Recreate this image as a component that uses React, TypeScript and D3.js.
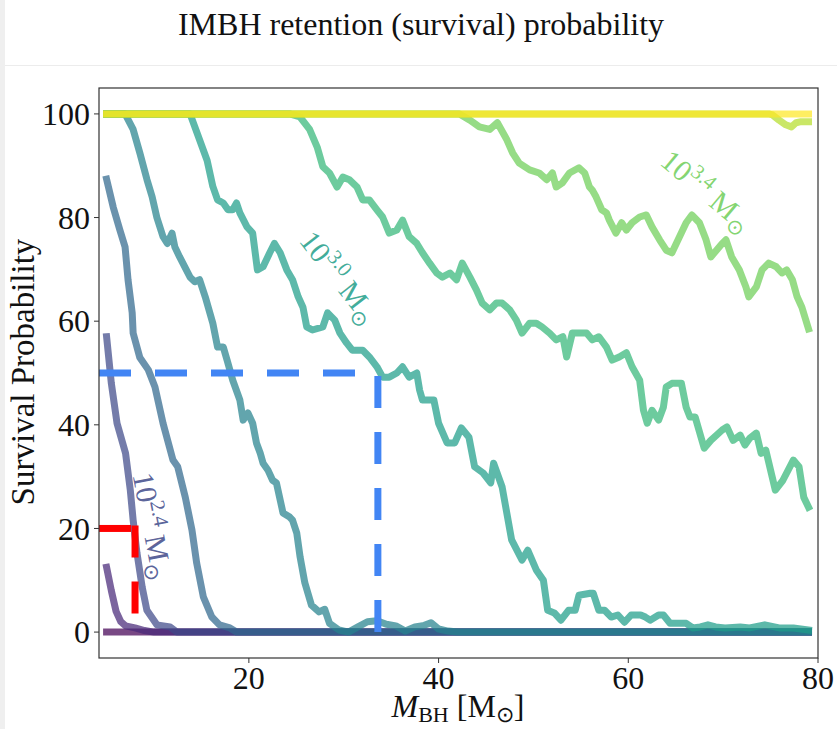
import React from 'react';
import * as d3 from 'd3';

const W = 837;
const H = 729;

const xTicks = [20, 40, 60, 80];
const yTicks = [0, 20, 40, 60, 80, 100];

// Survival probability curves, [M_BH, P] pairs, one per cluster mass (log10 M)
const curve20: [number, number][] = [[5, 0], [79, 0]];
const curve22: [number, number][] = [[5, 12.5], [5.5, 8], [6, 4], [6.5, 2], [7, 1.2], [8, 0.8], [9, 0.3], [10, 0], [79, 0]];
const curve24: [number, number][] = [[5, 57], [5.5, 48], [6.1, 40.3], [7, 34.5], [7.5, 27.4], [7.8, 21.6], [8.2, 15.3], [8.75, 8.7], [9.25, 4.2], [10.3, 1.4], [11.7, 1], [12.4, 0], [79, 0]];
const curve26: [number, number][] = [[5, 87.4], [5.7, 82], [6.4, 77.6], [6.95, 74.3], [7.26, 68], [7.7, 61.6], [7.8, 57.7], [8.5, 53], [9.4, 50.6], [10.1, 47.3], [10.95, 40.3], [12, 33.2], [12.5, 31.9], [13.3, 26], [14, 19.7], [14.5, 13.3], [15.2, 6.8], [16.1, 2.9], [16.9, 1.4], [18, 0.8], [18.7, 0], [79, 0]];
const curve28: [number, number][] = [[5, 100], [6.95, 100], [7.8, 97], [8.5, 92.5], [9.26, 87.3], [9.8, 84], [10.3, 80], [10.95, 76.3], [11.4, 75], [11.9, 77], [12.2, 74.3], [12.7, 72.4], [13.8, 68.5], [14.3, 67.6], [14.8, 68], [15.4, 64.7], [16.2, 59.6], [16.7, 55], [17.3, 55], [17.7, 52.5], [18.3, 48.6], [19.05, 44.8], [19.4, 40.9], [19.9, 42.3], [20.4, 40.3], [20.8, 36.5], [21.2, 34.5], [21.5, 32.6], [22, 31.3], [22.5, 29.3], [22.9, 28.8], [23.6, 23], [24.3, 22.2], [24.6, 21.6], [25.05, 19.1], [25.4, 14.5], [25.9, 9.5], [26.6, 5.2], [27.4, 3.9], [28, 4.4], [28.5, 1.7], [29.5, 0.4], [30.5, 0], [31.5, 1], [32.5, 2], [33.5, 2.2], [34.5, 1.5], [35.5, 1.2], [36.5, 0.2], [37.5, 1], [38.5, 1.3], [39.2, 1.8], [40, 0.6], [41, 0.2], [42, 0], [79, 0]];
const curve30: [number, number][] = [[5, 100], [13.8, 100], [14.8, 95], [15.6, 91], [16.2, 86], [16.7, 83.4], [17.3, 82.8], [17.8, 81.5], [18.3, 81.5], [18.7, 82.8], [19.05, 80.9], [19.8, 78.2], [20.4, 77], [20.9, 69.9], [21.5, 70.5], [22.2, 73.2], [22.7, 75], [23.3, 73.2], [24, 69.9], [24.6, 68], [25.2, 64.7], [25.7, 62.7], [26.1, 58.9], [26.7, 58.3], [27.8, 58.9], [28.3, 61.6], [29.05, 60.2], [29.6, 57.7], [30.3, 55.8], [30.9, 54.4], [32, 54.4], [32.7, 53.1], [33.5, 51.2], [34.1, 49.2], [34.8, 49.2], [35.6, 50], [36.2, 51.2], [36.9, 49.2], [37.7, 50], [38, 46.7], [38.3, 44.8], [39.5, 44.8], [40, 40.3], [40.9, 36.5], [41.7, 36.5], [42.4, 39.4], [43.2, 37.6], [43.8, 31.9], [44.7, 30.7], [45.5, 28.8], [45.8, 32.6], [46.7, 28], [47.7, 17.8], [48.8, 13.9], [49.4, 15.8], [50.3, 12], [51.05, 10], [51.5, 4.2], [52.2, 3.7], [52.9, 2.3], [53.7, 4.2], [54.4, 4.2], [54.8, 7.1], [56, 7.5], [56.3, 7.5], [56.9, 4.2], [57.5, 4.2], [58.2, 2.9], [58.9, 3.3], [59.6, 1.9], [60.3, 3.3], [61.3, 3.3], [61.8, 2.9], [62.3, 2.3], [63.2, 3.3], [63.7, 3.3], [64.4, 1.7], [66.1, 1.7], [66.8, 0.8], [67.6, 1], [68.4, 1.4], [69.2, 1], [70.2, 0.8], [71.8, 1], [72.8, 0.8], [74.4, 1.4], [75.9, 0.8], [77.4, 0.8], [79, 0.4]];
const curve32: [number, number][] = [[5, 100], [24.3, 100], [25.4, 99.4], [26.4, 97], [27.2, 93.6], [27.8, 89.8], [28.5, 88.6], [29.3, 85.9], [29.9, 87.8], [30.6, 87.3], [31.4, 85.9], [32, 83.4], [32.7, 83.4], [33.5, 81.5], [34.1, 80.1], [34.8, 77], [35.6, 77.6], [36.2, 79.5], [36.9, 76.3], [37.7, 75], [38.3, 73.2], [39.05, 71.2], [39.8, 69.3], [40.4, 68.5], [41.2, 69.3], [41.9, 68], [42.5, 71.2], [43.3, 68.5], [44, 66], [44.6, 63.5], [45.4, 62.2], [46.1, 63.5], [46.7, 63.5], [47.5, 62.2], [48.2, 60.2], [48.8, 57.7], [49.6, 59.6], [50.3, 59.6], [50.9, 58.9], [51.7, 57.7], [52.4, 56.4], [53.1, 57], [53.5, 53.1], [54.1, 57.7], [54.8, 57.7], [55.6, 57.7], [56.2, 56.4], [56.9, 57], [57.7, 55], [58.3, 52.5], [59.05, 53.1], [59.8, 53.9], [60.4, 51.2], [61.2, 48.6], [61.6, 42.8], [62, 40.3], [62.5, 42.8], [63.2, 40.9], [63.7, 43.4], [64, 47.3], [64.6, 48], [65.6, 48], [66.1, 43.4], [66.5, 41.5], [67.05, 41.5], [68, 35.5], [68.7, 37], [69.9, 39], [70.4, 39.6], [71.05, 37], [71.8, 38], [72.3, 36.1], [72.8, 37.4], [73.5, 38.4], [74, 34.5], [74.5, 35.1], [75.5, 27.4], [76.3, 29.3], [77.4, 33.2], [78, 31.9], [78.5, 26], [79, 24.1]];
const curve34: [number, number][] = [[5, 100], [42.2, 100], [43.3, 98.8], [44.3, 97.5], [45.4, 97], [46.2, 98.3], [47.2, 95], [47.8, 92.5], [48.5, 90.5], [49.6, 89.2], [50.6, 88.6], [51.4, 87.3], [52, 88.6], [52.4, 85.9], [53.05, 86.7], [53.8, 88.6], [54.8, 89.6], [55.4, 88.6], [55.9, 85.9], [56.2, 85.3], [56.6, 84], [57.2, 81.5], [57.7, 80.9], [58, 79.5], [58.7, 77], [59.3, 79], [59.8, 77.6], [60.4, 79], [61.2, 80.1], [61.9, 80.5], [62.5, 78.2], [63.3, 75.7], [64, 73.7], [64.6, 73.2], [65.4, 76.3], [66.1, 79], [66.7, 80.5], [67.5, 79], [68.2, 75.7], [68.7, 72.4], [69.3, 73.7], [69.9, 75], [70.3, 75.7], [70.9, 72.4], [71.7, 69.9], [72.4, 66.6], [72.7, 64.7], [73.5, 66.6], [74.1, 69.9], [74.8, 71.2], [75.6, 70.5], [76.2, 69.3], [76.7, 69.9], [77.3, 68], [77.8, 64.7], [78.3, 62.7], [79, 58.5]];
const curve36: [number, number][] = [[5, 100], [74.8, 100], [75.2, 99.8], [75.9, 98.8], [76.6, 97.9], [77.2, 97.5], [77.7, 98.3], [78.2, 98.5], [79, 98.5]];
const curve38: [number, number][] = [[5, 100], [79, 100]];

const seriesData = [curve20, curve22, curve24, curve26, curve28, curve30, curve32, curve34, curve36, curve38];
const seriesColorT = [0, 1 / 9, 2 / 9, 3 / 9, 4 / 9, 5 / 9, 6 / 9, 7 / 9, 8 / 9, 1];

// inline labels: exponent, position (M_BH, P), rotation, colour series
const labelExp = ['2.4', '3.0', '3.4'];
const labelX = [9.9, 29.6, 68.3];
const labelY = [20.5, 68.5, 85.2];
const labelRot = [79, 52, 40];
const labelSeries = [2, 5, 7];

// reference dashed guides
const blueGuide = { x: 33.6, y: 50 };
const redGuide = { x: 8.0, y: 20 };

export default function App() {
  const x = d3.scaleLinear().domain([4.2, 80]).range([99, 818]);
  const y = d3.scaleLinear().domain([-5, 105]).range([658, 88]);
  const line = d3
    .line<[number, number]>()
    .x((d) => x(d[0]))
    .y((d) => y(d[1]));
  const serif = "'Liberation Serif', 'Times New Roman', serif";
  const col = (t: number) => d3.interpolateViridis(t);
  const x0 = x.domain()[0];

  return (
    <div style={{ position: 'absolute', left: 0, top: 0 }}>
      <svg width={W} height={H} style={{ display: 'block', background: '#fff' }}>
        <rect x={0} y={0} width={5} height={H} fill="#efefef" />
        <line x1={5} x2={W} y1={65.5} y2={65.5} stroke="#ececec" strokeWidth={1} />
        <text x={421} y={35} textAnchor="middle" fontFamily={serif} fontSize={32} fill="#111">
          IMBH retention (survival) probability
        </text>

        {/* curves */}
        <g fill="none" strokeWidth={7} strokeLinecap="square" strokeLinejoin="round">
          {seriesData.map((s, i) => (
            <path key={i} d={line(s) || ''} stroke={col(seriesColorT[i])} strokeOpacity={0.72} />
          ))}
        </g>

        {/* dashed guides */}
        <g fill="none" strokeWidth={7} strokeDasharray="32 24">
          <path d={`M${x(x0)},${y(blueGuide.y)}L${x(blueGuide.x)},${y(blueGuide.y)}`} stroke="#4285F4" />
          <path d={`M${x(blueGuide.x)},${y(0)}L${x(blueGuide.x)},${y(blueGuide.y)}`} stroke="#4285F4" />
          <path d={`M${x(x0)},${y(redGuide.y)}L${x(redGuide.x)},${y(redGuide.y)}`} stroke="#ff0000" />
          <path d={`M${x(redGuide.x)},${y(redGuide.y) - 3}L${x(redGuide.x)},${y(0)}`} stroke="#ff0000" />
        </g>

        {/* inline labels */}
        {labelExp.map((e, i) => (
          <text
            key={e}
            transform={`translate(${x(labelX[i])},${y(labelY[i])}) rotate(${labelRot[i]})`}
            textAnchor="middle"
            dy="0.35em"
            fontFamily={serif}
            fontSize={30}
            fill={col(seriesColorT[labelSeries[i]])}
            fillOpacity={0.85}
          >
            10
            <tspan dy={-12} fontSize={21}>{e}</tspan>
            <tspan dy={12}> M</tspan>
            <tspan dy={7} fontSize={21}>⊙</tspan>
          </text>
        ))}

        {/* frame */}
        <rect x={99} y={88} width={719} height={570} fill="none" stroke="#333" strokeWidth={1.2} />

        {/* y axis */}
        {yTicks.map((t) => (
          <g key={t}>
            <line x1={94} x2={99} y1={y(t)} y2={y(t)} stroke="#333" strokeWidth={1} />
            <text x={90} y={y(t)} dy="0.35em" textAnchor="end" fontFamily={serif} fontSize={32} fill="#111">
              {t}
            </text>
          </g>
        ))}
        {/* x axis */}
        {xTicks.map((t) => (
          <g key={t}>
            <line x1={x(t)} x2={x(t)} y1={658} y2={663} stroke="#333" strokeWidth={1} />
            <text x={x(t)} y={689} textAnchor="middle" fontFamily={serif} fontSize={32} fill="#111">
              {t}
            </text>
          </g>
        ))}

        <text
          transform={`translate(34,372) rotate(-90)`}
          textAnchor="middle"
          fontFamily={serif}
          fontSize={33}
          fill="#111"
        >
          Survival Probability
        </text>

        <text x={458} y={717} textAnchor="middle" fontFamily={serif} fontSize={32} fill="#111">
          <tspan fontStyle="italic">M</tspan>
          <tspan dy={5} fontSize={22}>BH</tspan>
          <tspan dy={-5}> [M</tspan>
          <tspan dy={5} fontSize={22}>⊙</tspan>
          <tspan dy={-5}>]</tspan>
        </text>
      </svg>
    </div>
  );
}
